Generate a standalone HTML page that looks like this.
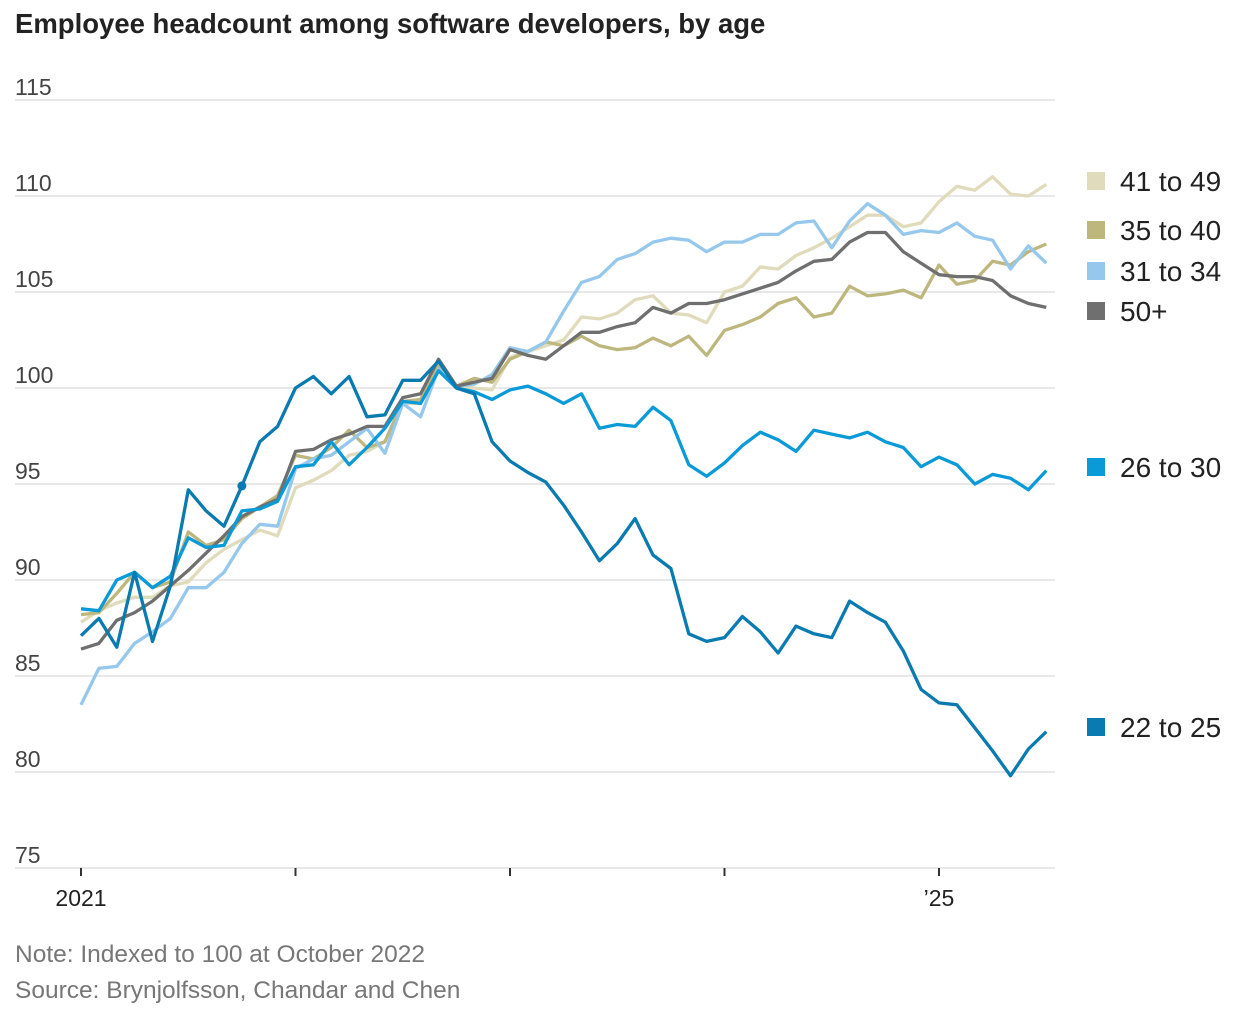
<!DOCTYPE html>
<html><head><meta charset="utf-8"><style>
html,body{margin:0;padding:0;background:#fff;}
body{width:1240px;height:1006px;overflow:hidden;font-family:"Liberation Sans",sans-serif;}
svg text{font-family:"Liberation Sans",sans-serif;}
</style></head><body>
<svg id="chart" width="1240" height="1006" viewBox="0 0 1240 1006">
<text x="15" y="33" font-size="27.5" font-weight="bold" fill="#222">Employee headcount among software developers, by age</text>
<g id="grid"></g>
<g id="series"></g>
<g id="legend"></g>
<text x="15" y="962" font-size="24.5" fill="#777">Note: Indexed to 100 at October 2022</text>
<text x="15" y="998" font-size="24.5" fill="#777">Source: Brynjolfsson, Chandar and Chen</text>
</svg>
<script>
const yTicks=[75,80,85,90,95,100,105,110,115];
const xTickMonths=[0,12,24,36,48];
const xTickLabels=["2021","","","","’25"];
const seriesNames=["41 to 49","35 to 40","31 to 34","50+","26 to 30","22 to 25"];
const s41=[87.8,88.4,88.8,89.1,89.1,89.7,89.9,90.9,91.6,92.1,92.6,92.3,94.8,95.2,95.7,96.5,96.7,97.2,99.2,99.2,100.9,100.1,100.0,99.9,101.6,101.9,102.2,102.5,103.7,103.6,103.9,104.6,104.8,103.9,103.8,103.4,105.0,105.3,106.3,106.2,106.9,107.3,107.8,108.4,109.0,109.0,108.4,108.6,109.7,110.5,110.3,111.0,110.1,110.0,110.6];
const s35=[88.2,88.3,89.3,90.4,89.6,89.9,92.5,91.8,92.1,93.2,93.8,94.4,96.5,96.3,96.9,97.8,96.9,97.2,99.3,99.4,101.2,100.1,100.5,100.3,101.5,101.9,102.4,102.2,102.7,102.2,102.0,102.1,102.6,102.2,102.7,101.7,103.0,103.3,103.7,104.4,104.7,103.7,103.9,105.3,104.8,104.9,105.1,104.7,106.4,105.4,105.6,106.6,106.4,107.1,107.5];
const s31=[83.5,85.4,85.5,86.7,87.3,88.0,89.6,89.6,90.4,91.9,92.9,92.8,95.8,96.3,96.5,97.2,97.9,96.6,99.2,98.5,101.0,100.1,100.2,100.7,102.1,101.9,102.4,104.0,105.5,105.8,106.7,107.0,107.6,107.8,107.7,107.1,107.6,107.6,108.0,108.0,108.6,108.7,107.3,108.7,109.6,109.0,108.0,108.2,108.1,108.6,107.9,107.7,106.2,107.4,106.5];
const s50=[86.4,86.7,87.9,88.3,88.9,89.7,90.5,91.4,92.3,93.3,93.8,94.2,96.7,96.8,97.3,97.6,98.0,98.0,99.5,99.7,101.5,100.1,100.3,100.5,102.0,101.7,101.5,102.2,102.9,102.9,103.2,103.4,104.2,103.9,104.4,104.4,104.6,104.9,105.2,105.5,106.1,106.6,106.7,107.6,108.1,108.1,107.1,106.5,105.9,105.8,105.8,105.6,104.8,104.4,104.2];
const s26=[88.5,88.4,90.0,90.4,89.6,90.2,92.2,91.7,91.8,93.6,93.7,94.1,95.9,96.0,97.2,96.0,96.9,97.9,99.3,99.2,100.9,100.0,99.8,99.4,99.9,100.1,99.7,99.2,99.7,97.9,98.1,98.0,99.0,98.3,96.0,95.4,96.1,97.0,97.7,97.3,96.7,97.8,97.6,97.4,97.7,97.2,96.9,95.9,96.4,96.0,95.0,95.5,95.3,94.7,95.7];
const s22=[87.1,88.0,86.5,90.4,86.8,89.7,94.7,93.6,92.8,94.9,97.2,98.0,100.0,100.6,99.7,100.6,98.5,98.6,100.4,100.4,101.4,100.0,99.7,97.2,96.2,95.6,95.1,93.9,92.5,91.0,91.9,93.2,91.3,90.6,87.2,86.8,87.0,88.1,87.3,86.2,87.6,87.2,87.0,88.9,88.3,87.8,86.3,84.3,83.6,83.5,82.3,81.1,79.8,81.2,82.1];
const dotMonth=9;

const NS="http://www.w3.org/2000/svg";
function xs(m){return 81+m*(858/48);}
function ys(v){return 868-(v-75)*19.2;}
function mk(tag,attrs,parent){const e=document.createElementNS(NS,tag);for(const k in attrs)e.setAttribute(k,attrs[k]);parent.appendChild(e);return e;}
const grid=document.getElementById('grid');
yTicks.forEach(t=>{
  const l=mk('line',{x1:15,x2:1055,y1:ys(t),y2:ys(t),stroke:'#e0e0e0','stroke-width':1.5},grid);
  
  
  const tx=mk('text',{x:15,y:ys(t)-5,'font-size':23,fill:'#444'},grid);
  tx.textContent=t;
  
  
});
xTickMonths.forEach((m,i)=>{
  const l=mk('line',{x1:xs(m),x2:xs(m),y1:868,y2:876,stroke:'#333','stroke-width':2},grid);
  
  
  if(xTickLabels[i]){
    const tx=mk('text',{x:xs(m),y:906,'font-size':23,fill:'#222','text-anchor':'middle'},grid);
    tx.textContent=xTickLabels[i];
    
    
  }
});
const ser=document.getElementById('series');
const defs=[[s41,'#e0dbbb'],[s35,'#bdb77e'],[s31,'#95c8ec'],[s50,'#6f6f6f'],[s26,'#0a9ad8'],[s22,'#0a7bb0']];
defs.forEach((d,k)=>{
  const pts=d[0].map((v,i)=>xs(i).toFixed(1)+','+ys(v).toFixed(1)).join(' ');
  const p=mk('polyline',{points:pts,fill:'none',stroke:d[1],'stroke-width':3.3,'stroke-linejoin':'round'},ser);
  
  
});
const dot=mk('circle',{cx:xs(dotMonth),cy:ys(s22[dotMonth]),r:4.5,fill:'#0a7bb0'},ser);


const leg=document.getElementById('legend');
const legY=[181,230,271,311,467,727];
seriesNames.forEach((n,k)=>{
  const r=mk('rect',{x:1087,y:legY[k]-9,width:18,height:18,fill:defs[k][1]},leg);
  
  
  const t=mk('text',{x:1120,y:legY[k]+10,'font-size':28,fill:'#222'},leg);
  t.textContent=n;
  
  
});
</script>
</body></html>
